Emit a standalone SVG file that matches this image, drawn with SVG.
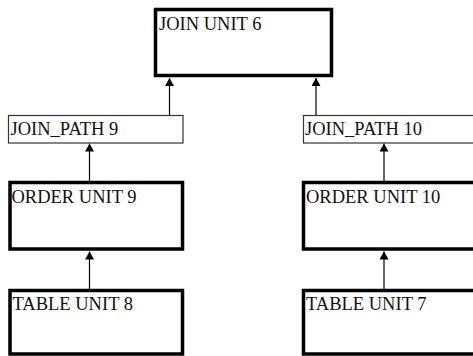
<svg xmlns="http://www.w3.org/2000/svg" width="473" height="356" viewBox="0 0 473 356">
<defs>
<marker id="ah" markerUnits="userSpaceOnUse" markerWidth="9" markerHeight="9" refX="8" refY="4.5" orient="auto">
<path d="M0,0 L8,4.5 L0,9 z" fill="#000"/>
</marker>
<style>
.unit{fill:#fff;stroke:#000;stroke-width:3.5}
.path{fill:#fff;stroke:#333;stroke-width:1.2}
.lbl{font-family:"Liberation Serif","Times New Roman",serif;font-size:18.5px;fill:#111}
.conn{stroke:#000;stroke-width:1.2;fill:none;marker-end:url(#ah)}
</style>
</defs>
<rect width="473" height="356" fill="#fff"/>
<g id="connectors">
<line class="conn" x1="169.5" y1="115.5" x2="169.5" y2="78"/>
<line class="conn" x1="316" y1="115.5" x2="316" y2="78"/>
<line class="conn" x1="89.5" y1="181" x2="89.5" y2="143.5"/>
<line class="conn" x1="384" y1="181" x2="384" y2="143.5"/>
<line class="conn" x1="89.5" y1="289" x2="89.5" y2="251.5"/>
<line class="conn" x1="384" y1="289" x2="384" y2="251.5"/>
</g>
<g id="join_unit_6">
<rect class="unit" x="155.5" y="9.5" width="176" height="66"/>
<text class="lbl" x="159" y="30">JOIN UNIT 6</text>
</g>
<g id="join_path_9">
<rect class="path" x="8.5" y="115.5" width="174.5" height="27.5"/>
<text class="lbl" x="10.5" y="135">JOIN_PATH 9</text>
</g>
<g id="join_path_10">
<rect class="path" x="303.5" y="115.5" width="200" height="27.5"/>
<text class="lbl" x="305" y="135">JOIN_PATH 10</text>
</g>
<g id="order_unit_9">
<rect class="unit" x="10" y="182.5" width="172.5" height="66.5"/>
<text class="lbl" x="11.5" y="203">ORDER UNIT 9</text>
</g>
<g id="order_unit_10">
<rect class="unit" x="303.5" y="182.5" width="200" height="66.5"/>
<text class="lbl" x="306" y="203">ORDER UNIT 10</text>
</g>
<g id="table_unit_8">
<rect class="unit" x="10" y="290.5" width="172.5" height="63.5"/>
<text class="lbl" x="12.5" y="310">TABLE UNIT 8</text>
</g>
<g id="table_unit_7">
<rect class="unit" x="303.5" y="290.5" width="200" height="63.5"/>
<text class="lbl" x="306" y="310">TABLE UNIT 7</text>
</g>
</svg>
